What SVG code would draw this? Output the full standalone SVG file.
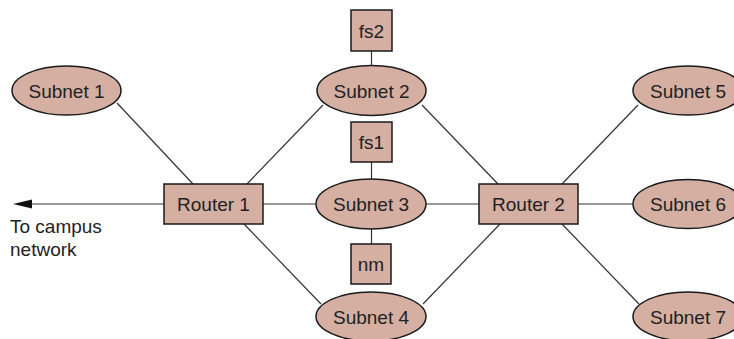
<svg xmlns="http://www.w3.org/2000/svg" width="734" height="339" viewBox="0 0 734 339">
<defs>
<style>
.n{fill:#D4AFA2;stroke:#1a1a1a;stroke-width:1.5}
.t{font-family:"Liberation Sans",Arial,sans-serif;font-size:19px;fill:#222;text-anchor:middle}
.l{font-family:"Liberation Sans",Arial,sans-serif;font-size:19px;fill:#222}
.c{stroke:#333;stroke-width:1.2;fill:none}
</style>
</defs>
<rect width="734" height="339" fill="#fff"/>
<g id="connectors">
<line class="c" x1="117" y1="103" x2="193" y2="184"/>
<line class="c" x1="247" y1="184" x2="323" y2="105"/>
<line class="c" x1="422" y1="105" x2="498" y2="184"/>
<line class="c" x1="562" y1="184" x2="638" y2="105"/>
<line class="c" x1="263" y1="204" x2="316" y2="204"/>
<line class="c" x1="426" y1="204" x2="479" y2="204"/>
<line class="c" x1="578" y1="204" x2="633" y2="204"/>
<line class="c" x1="244" y1="224" x2="321" y2="304"/>
<line class="c" x1="423" y1="304" x2="500" y2="224"/>
<line class="c" x1="562" y1="224" x2="639" y2="304"/>
<line class="c" x1="371.5" y1="51" x2="371.5" y2="65"/>
<line class="c" x1="371.5" y1="162" x2="371.5" y2="179"/>
<line class="c" x1="371.5" y1="229" x2="371.5" y2="244"/>
<line class="c" x1="164" y1="204" x2="30" y2="204"/>
<polygon points="13,204 32,199.5 32,208.5" fill="#111"/>
</g>
<g id="subnet1"><ellipse class="n" cx="66.5" cy="90.5" rx="54.5" ry="24.5"/><text class="t" x="66.5" y="97.5">Subnet 1</text></g>
<g id="fs2"><rect class="n" x="351" y="10" width="41" height="41"/><text class="t" x="371.5" y="37.5">fs2</text></g>
<g id="subnet2"><ellipse class="n" cx="371.5" cy="90.5" rx="54.5" ry="25"/><text class="t" x="371.5" y="97.5">Subnet 2</text></g>
<g id="subnet5"><ellipse class="n" cx="688" cy="90.5" rx="55" ry="24.5"/><text class="t" x="688" y="97.5">Subnet 5</text></g>
<g id="fs1"><rect class="n" x="351" y="122" width="41" height="40"/><text class="t" x="371.5" y="149">fs1</text></g>
<g id="router1"><rect class="n" x="164" y="184" width="99" height="40"/><text class="t" x="213.5" y="211">Router 1</text></g>
<g id="subnet3"><ellipse class="n" cx="371" cy="204" rx="55" ry="25"/><text class="t" x="371" y="211">Subnet 3</text></g>
<g id="router2"><rect class="n" x="479" y="184" width="99" height="40"/><text class="t" x="528.5" y="211">Router 2</text></g>
<g id="subnet6"><ellipse class="n" cx="688" cy="204" rx="55" ry="24.5"/><text class="t" x="688" y="211">Subnet 6</text></g>
<g id="nm"><rect class="n" x="351" y="244" width="40" height="40"/><text class="t" x="371" y="271">nm</text></g>
<g id="subnet4"><ellipse class="n" cx="371" cy="316.5" rx="55" ry="24.5"/><text class="t" x="371" y="323.5">Subnet 4</text></g>
<g id="subnet7"><ellipse class="n" cx="688" cy="316.5" rx="55" ry="24.5"/><text class="t" x="688" y="323.5">Subnet 7</text></g>
<g id="campus"><text class="l" x="10" y="233">To campus</text><text class="l" x="10" y="256">network</text></g>
</svg>
